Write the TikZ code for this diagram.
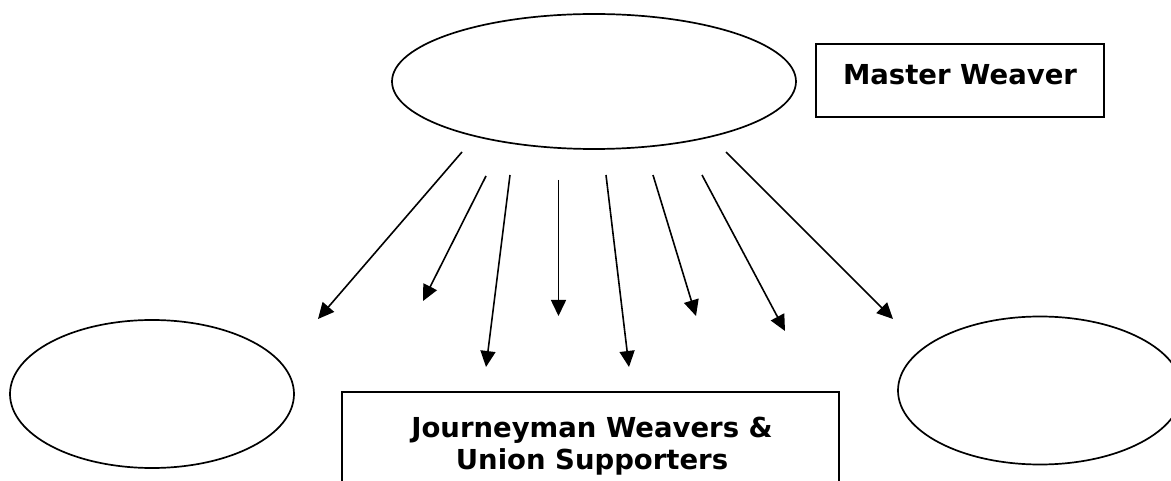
\documentclass[tikz,border=0pt]{standalone}
\usepackage{fontspec}
\setmainfont{DejaVu Sans}
\usetikzlibrary{arrows.meta,shapes.geometric}
\tikzset{
  oval/.style={draw, line width=1.7pt, ellipse, inner sep=0pt},
  labelbox/.style={draw, line width=1.7pt},
  lbl/.style={font=\bfseries\fontsize{27.5}{32}\selectfont, align=center, inner sep=0pt},
  flow/.style={line width=1.6pt, -{Triangle[length=16pt,width=15pt]}}
}
\begin{document}
\begin{tikzpicture}[x=1pt,y=-1pt]
\useasboundingbox (0,0) rectangle (1171,481);
% ellipses
\node[oval, minimum width=404pt, minimum height=135pt] (top) at (594,81.5) {};
\node[oval, minimum width=284pt, minimum height=148pt] (left) at (152,394) {};
\node[oval, minimum width=284pt, minimum height=148pt] (right) at (1040,390.5) {};
% boxes
\draw[labelbox] (816,44) rectangle (1104,117);
\node[lbl] (master) at (960,75) {Master Weaver};
\draw[labelbox] (342,392) rectangle (839,500);
\node[lbl] (journey) at (592,446) {Journeyman Weavers \&\\Union Supporters};
% arrow end points
\coordinate (s1) at (462,152); \coordinate (e1) at (318,319);
\coordinate (s2) at (486,176); \coordinate (e2) at (423,301);
\coordinate (s3) at (510,175); \coordinate (e3) at (486,367);
\coordinate (s4) at (558.5,180); \coordinate (e4) at (558.5,316);
\coordinate (s5) at (606,175); \coordinate (e5) at (629,367);
\coordinate (s6) at (653,175); \coordinate (e6) at (696,316);
\coordinate (s7) at (702,175); \coordinate (e7) at (785,331);
\coordinate (s8) at (726,152); \coordinate (e8) at (893,319);
\foreach \i in {1,...,8} {\draw[flow] (s\i) -- (e\i);}
\end{tikzpicture}
\end{document}
